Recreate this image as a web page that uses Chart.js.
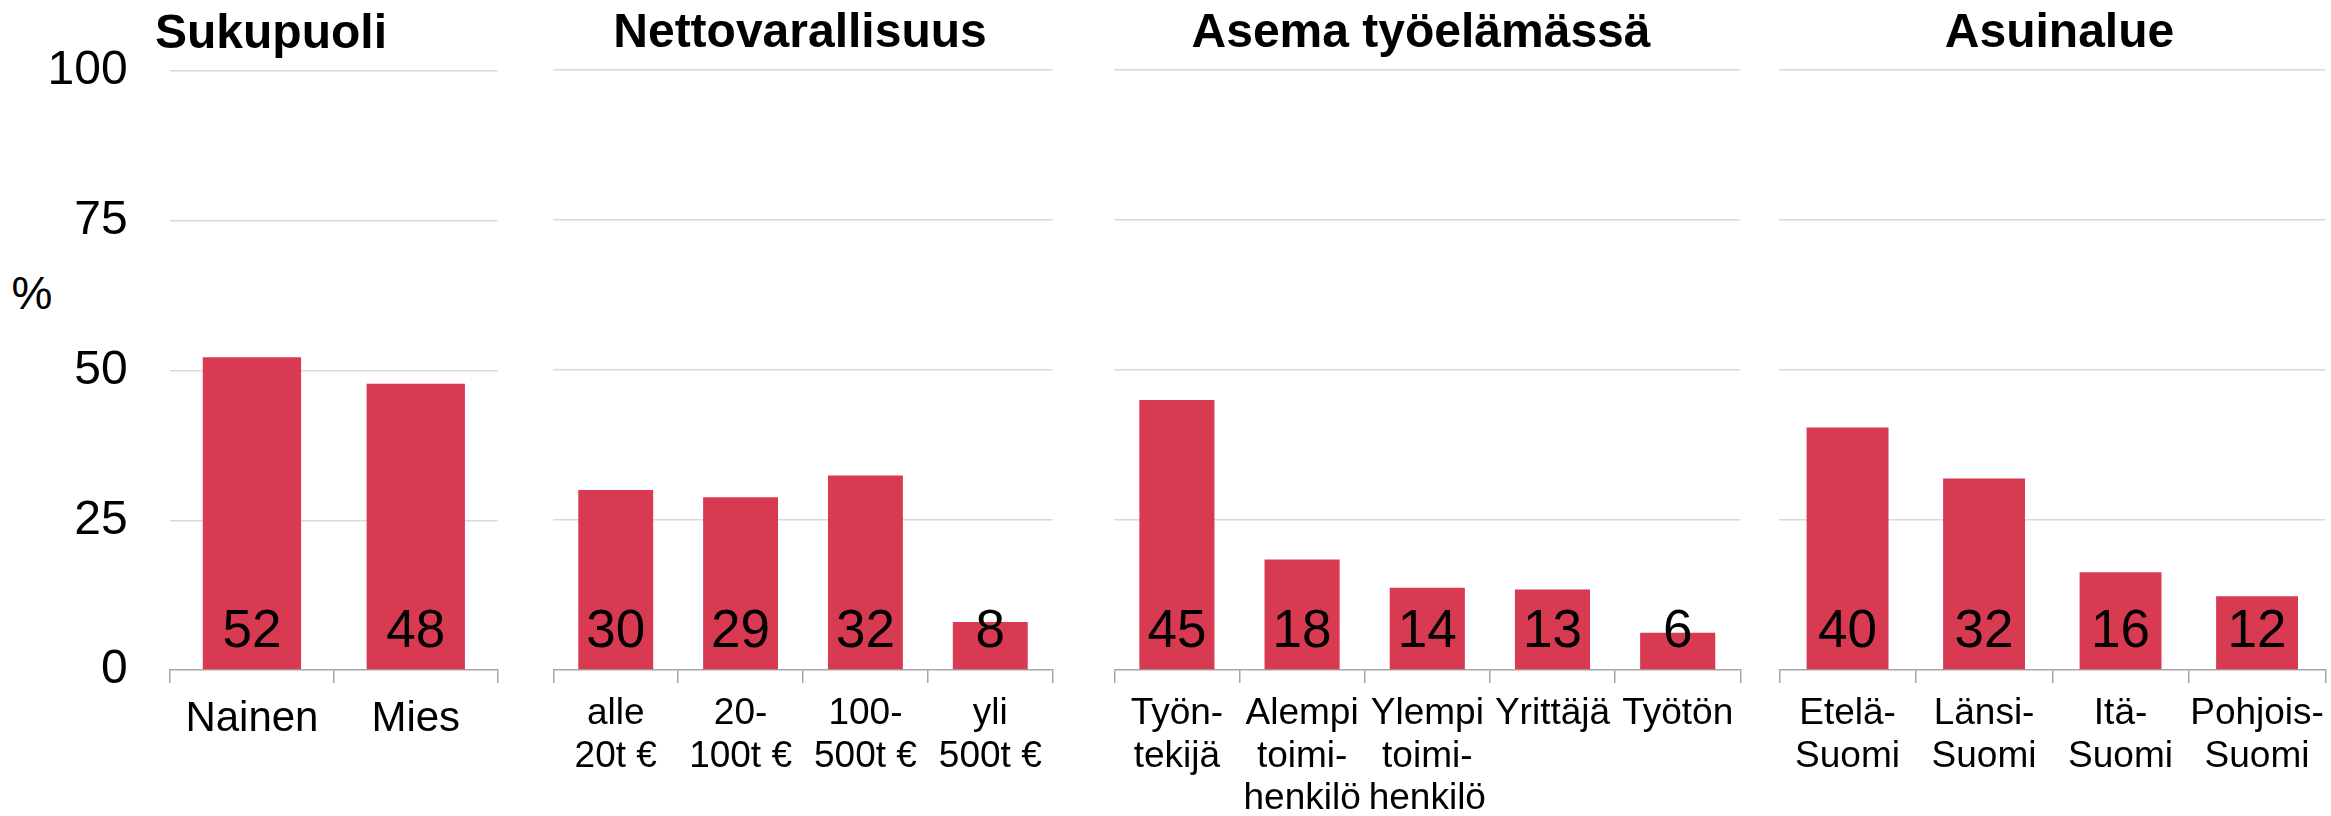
<!DOCTYPE html>
<html>
<head>
<meta charset="utf-8">
<script src="https://cdn.jsdelivr.net/npm/chart.js@4.4.1/dist/chart.umd.min.js"></script>
<style>
  html, body { margin: 0; padding: 0; background: #ffffff; overflow: hidden; }
  body { position: relative; width: 2331px; height: 816px; }
  canvas { position: absolute; top: 0; }
  #pct { position: absolute; left: 11.5px; top: 269.5px; font-family: 'Liberation Sans', Arial, Helvetica, sans-serif; font-size: 46px; line-height: 46px; color: #000; }
</style>
</head>
<body>
<div id="pct">%</div>
<canvas id="c1" width="520" height="816" style="left:0px"></canvas>
<canvas id="c2" width="540" height="816" style="left:530px"></canvas>
<canvas id="c3" width="670" height="816" style="left:1085px"></canvas>
<canvas id="c4" width="590" height="816" style="left:1765px"></canvas>
<script>
// ---------- DATA ----------
const titleGender = "Sukupuoli";
const catsGender = ["Nainen", "Mies"];
const valsGender = [52.2, 47.8];

const titleWealth = "Nettovarallisuus";
const catsWealth = [["alle", "20t €"], ["20-", "100t €"], ["100-", "500t €"], ["yli", "500t €"]];
const valsWealth = [30.0, 28.8, 32.4, 8.0];

const titleWork = "Asema työelämässä";
const catsWork = [["Työn-", "tekijä"], ["Alempi", "toimi-", "henkilö"], ["Ylempi", "toimi-", "henkilö"], "Yrittäjä", "Työtön"];
const valsWork = [45.0, 18.4, 13.7, 13.4, 6.2];

const titleRegion = "Asuinalue";
const catsRegion = [["Etelä-", "Suomi"], ["Länsi-", "Suomi"], ["Itä-", "Suomi"], ["Pohjois-", "Suomi"]];
const valsRegion = [40.4, 31.9, 16.3, 12.3];

const yMin = 0, yMax = 100, yStep = 25;

// ---------- STYLE ----------
const FONT = "'Liberation Sans', Arial, Helvetica, sans-serif";
const BAR = "#d83a52";
const GRID = "#dadada";
const AXIS = "#a6a6a6";
const CANVAS_H = 816;
const PLOT_BOTTOM = 670;

const panels = [
  { id: "c1", title: titleGender, labels: catsGender, values: valsGender, showY: true,
    box: { canvasLeft: 0, canvasWidth: 520, plotLeft: 170, plotRight: 497.7, titleCenter: 271, yLabelRight: 127.7,
           xFont: 42, xLine: 1.024, xPad: 15 } },
  { id: "c2", title: titleWealth, labels: catsWealth, values: valsWealth, showY: false,
    box: { canvasLeft: 530, canvasWidth: 540, plotLeft: 553.3, plotRight: 1052.7, titleCenter: 800,
           xFont: 37, xLine: 1.149, xPad: 10 } },
  { id: "c3", title: titleWork, labels: catsWork, values: valsWork, showY: false,
    box: { canvasLeft: 1085, canvasWidth: 670, plotLeft: 1114.3, plotRight: 1740.3, titleCenter: 1421,
           xFont: 37, xLine: 1.149, xPad: 10 } },
  { id: "c4", title: titleRegion, labels: catsRegion, values: valsRegion, showY: false,
    box: { canvasLeft: 1765, canvasWidth: 590, plotLeft: 1779.3, plotRight: 2325.3, titleCenter: 2059.5,
           xFont: 37, xLine: 1.149, xPad: 10 } }
];

const valueLabels = {
  id: "valueLabels",
  afterDatasetsDraw(chart) {
    const ctx = chart.ctx;
    const meta = chart.getDatasetMeta(0);
    const base = chart.scales.y.getPixelForValue(0);
    ctx.save();
    ctx.font = "53px " + FONT;
    ctx.fillStyle = "#000";
    ctx.textAlign = "center";
    ctx.textBaseline = "alphabetic";
    meta.data.forEach((bar, i) => {
      const v = chart.data.datasets[0].data[i];
      ctx.fillText(String(Math.round(v)), bar.x, base - 23.3);
    });
    ctx.restore();
  }
};

panels.forEach(p => {
  const b = p.box;
  const plotCenter = (b.plotLeft + b.plotRight) / 2;
  let tL, tR;
  if (b.titleCenter <= plotCenter) { tR = b.plotRight; tL = 2 * b.titleCenter - b.plotRight; }
  else { tL = b.plotLeft; tR = 2 * b.titleCenter - b.plotLeft; }
  const padL = tL - b.canvasLeft;
  const padR = b.canvasLeft + b.canvasWidth - tR;
  const yWidth = b.plotLeft - tL;
  const y2Width = tR - b.plotRight;

  const scales = {
    x: {
      type: "category",
      grid: { offset: true, drawOnChartArea: false, drawTicks: true, tickLength: 13, color: AXIS, lineWidth: 1.5 },
      border: { display: true, color: AXIS, width: 1.5 },
      ticks: { color: "#000", font: { family: FONT, size: b.xFont, lineHeight: b.xLine }, padding: b.xPad,
               autoSkip: false, maxRotation: 0, minRotation: 0 },
      afterFit(s) { s.height = CANVAS_H - PLOT_BOTTOM; s.paddingLeft = 0; s.paddingRight = 0; }
    },
    y: {
      position: "left",
      min: yMin, max: yMax,
      ticks: { display: p.showY, stepSize: yStep, color: "#000", font: { family: FONT, size: 48 },
               padding: p.showY ? (b.plotLeft - b.yLabelRight) : 0 },
      grid: { drawTicks: false, lineWidth: 1.5,
              color: c => (c.tick && c.tick.value === 0) ? "rgba(0,0,0,0)" : GRID },
      border: { display: false },
      afterFit(s) { s.width = yWidth; }
    }
  };
  if (y2Width > 0.5) {
    scales.y2 = {
      position: "right", min: yMin, max: yMax,
      ticks: { display: false }, grid: { display: false, drawTicks: false }, border: { display: false },
      afterFit(s) { s.width = y2Width; }
    };
  }

  new Chart(document.getElementById(p.id), {
    type: "bar",
    data: {
      labels: p.labels,
      datasets: [{ data: p.values, backgroundColor: BAR, borderWidth: 0,
                   barPercentage: 0.6, categoryPercentage: 1.0 }]
    },
    options: {
      responsive: false,
      animation: false,
      devicePixelRatio: 1,
      layout: { padding: { left: padL, right: padR, top: 0, bottom: 0 } },
      plugins: {
        legend: { display: false },
        tooltip: { enabled: false },
        title: { display: true, text: p.title, color: "#000",
                 font: { family: FONT, size: 48, weight: "bold", lineHeight: 1.2 },
                 padding: { top: 4.6, bottom: 7.8 } }
      },
      scales
    },
    plugins: [valueLabels]
  });
});
</script>
</body>
</html>
